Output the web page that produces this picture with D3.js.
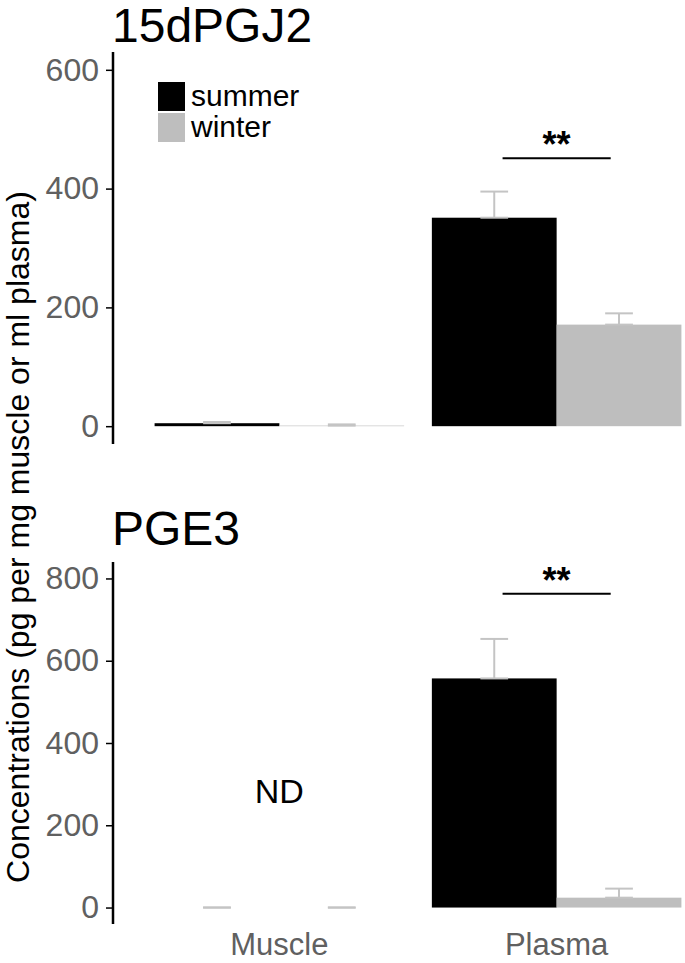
<!DOCTYPE html>
<html>
<head>
<meta charset="utf-8">
<script src="https://cdn.jsdelivr.net/npm/d3@7"></script>
<style>
  body { margin: 0; background: #fff; }
  text { font-family: "Liberation Sans", Arial, sans-serif; }
</style>
</head>
<body>
<div id="chart"></div>
<script>
// data
const tissues = ["Muscle", "Plasma"];
const seasons = ["summer", "winter"];
const panels = ["15dPGJ2", "PGE3"];
const yTicks = [[0, 200, 400, 600], [0, 200, 400, 600, 800]];
const yMax = [600, 800];
// means per panel: [muscle summer, muscle winter, plasma summer, plasma winter]
const means15d = [5, 1, 351, 171];
const se15d = [2, 2, 44, 19];
const meansPGE3 = [0, 0, 557, 24];
const sePGE3 = [0, 0, 96, 22];
const sigY = [451, 763];

const width = 685, height = 963;
const svg = d3.select("#chart").append("svg")
    .attr("width", width)
    .attr("height", height);

const grey = "#bebebe";
const colour = d3.scaleOrdinal().domain(seasons).range(["#000000", grey]);

// x: ggplot style discrete axis, 0.6 units of padding each side
const x0 = d3.scaleBand().domain(tissues).range([113, 723]).paddingInner(0.1).paddingOuter(0.15);
const x1 = d3.scaleBand().domain(seasons).range([0, x0.bandwidth()]);

// panel vertical extents (axis line top/bottom)
const extents = [[52, 444], [562, 924]];
const titleY = [42, 545];

function panel(p, means, ses) {
  const rows = [];
  tissues.forEach((t, i) => seasons.forEach((s, j) => {
    rows.push({ tissue: t, season: s, mean: means[i * 2 + j], se: ses[i * 2 + j] });
  }));

  // ggplot 5% expansion around [0, yMax]
  const pad = yMax[p] * 0.05;
  const y = d3.scaleLinear().domain([-pad, yMax[p] + pad]).range([extents[p][1], extents[p][0]]);
  const g = svg.append("g");

  const drawn = p === 0 ? rows : rows.filter(d => d.tissue === "Plasma");

  g.selectAll(".bar")
      .data(drawn)
      .enter().append("rect")
      .attr("x", d => x0(d.tissue) + x1(d.season))
      .attr("width", x1.bandwidth())
      .attr("y", d => y(d.mean))
      .attr("height", d => y(0) - y(d.mean))
      .style("fill", d => colour(d.season));

  // error bars: from mean up to mean + se, caps 0.1 units wide
  const capW = x0.step() * 0.1;
  const eb = g.selectAll(".err")
      .data(rows)
      .enter().append("g")
      .attr("transform", d => `translate(${x0(d.tissue) + x1(d.season) + x1.bandwidth() / 2},0)`)
      .style("stroke", "#c4c4c4")
      .style("stroke-width", 2);
  eb.append("line")
      .attr("y1", d => y(d.mean)).attr("y2", d => y(d.mean + d.se));
  eb.append("line")
      .attr("x1", -capW / 2).attr("x2", capW / 2)
      .attr("y1", d => y(d.mean + d.se)).attr("y2", d => y(d.mean + d.se));
  eb.append("line")
      .attr("x1", -capW / 2).attr("x2", capW / 2)
      .attr("y1", d => y(d.mean)).attr("y2", d => y(d.mean));

  // y axis
  const axis = g.append("g")
      .attr("transform", "translate(113,0)")
      .call(d3.axisLeft(y).tickValues(yTicks[p]).tickSize(7).tickPadding(7));
  axis.select(".domain").attr("d", `M0,${extents[p][0]}V${extents[p][1]}`)
      .style("stroke", "#000").style("stroke-width", 2.5);
  axis.selectAll(".tick line").style("stroke", "#000").style("stroke-width", 1.5);
  axis.selectAll(".tick text")
      .style("font-size", "32px")
      .style("fill", "#606060")
      .style("font-family", "Liberation Sans, Arial, sans-serif");

  // title
  svg.append("text")
      .attr("x", 112)
      .attr("y", titleY[p])
      .style("font-size", "48px")
      .text(panels[p]);

  // significance line between plasma bars
  const off = x0.step() * 0.03;
  const sx1 = x0("Plasma") + x1("summer") + x1.bandwidth() / 2 + off;
  const sx2 = x0("Plasma") + x1("winter") + x1.bandwidth() / 2 - off;
  g.append("line")
      .attr("x1", sx1).attr("x2", sx2)
      .attr("y1", y(sigY[p])).attr("y2", y(sigY[p]))
      .style("stroke", "#000").style("stroke-width", 2);
  g.append("text")
      .attr("x", (sx1 + sx2) / 2)
      .attr("y", y(sigY[p]) - 1)
      .attr("text-anchor", "middle")
      .style("font-size", "36px")
      .style("font-weight", "bold")
      .text("**");

  return y;
}

panel(0, means15d, se15d);
const yB = panel(1, meansPGE3, sePGE3);

// ND label for PGE3 muscle
svg.append("text")
    .attr("x", x0("Muscle") + x0.bandwidth() / 2)
    .attr("y", yB(200) - 22)
    .attr("text-anchor", "middle")
    .style("font-size", "34px")
    .text("ND");

// x labels
svg.selectAll(".xlab")
    .data(tissues)
    .enter().append("text")
    .attr("x", d => x0(d) + x0.bandwidth() / 2)
    .attr("y", 955)
    .attr("text-anchor", "middle")
    .style("font-size", "31px")
    .style("fill", "#606060")
    .text(d => d);

// legend
const legend = svg.append("g").attr("transform", "translate(158,82)");
seasons.forEach((s, i) => {
  legend.append("rect")
      .attr("x", 0).attr("y", i * 31)
      .attr("width", 27).attr("height", 29)
      .style("fill", colour(s));
  legend.append("text")
      .attr("x", 33).attr("y", i * 31 + 24)
      .style("font-size", "30px")
      .text(s);
});

// y axis title
svg.append("text")
    .attr("transform", "translate(29,537) rotate(-90)")
    .attr("text-anchor", "middle")
    .style("font-size", "32px")
    .text("Concentrations (pg per mg muscle or ml plasma)");
</script>
</body>
</html>
